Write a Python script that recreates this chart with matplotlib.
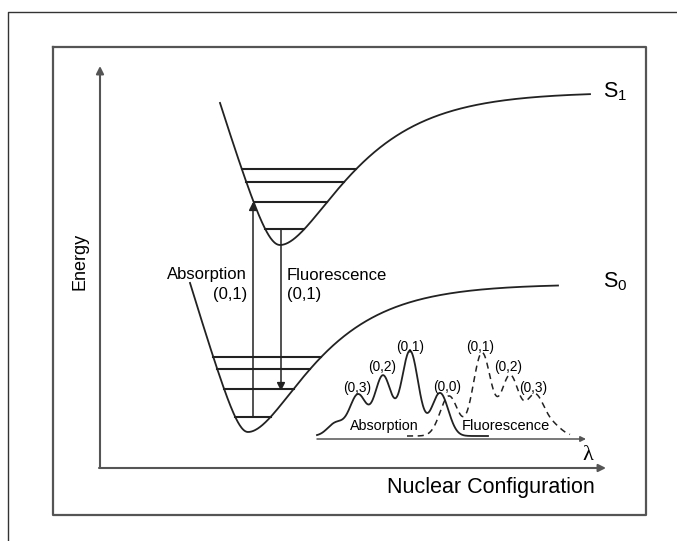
import numpy as np
import matplotlib
matplotlib.use("Agg")
import matplotlib.pyplot as plt

plt.rcParams['font.family'] = ['Liberation Sans', 'DejaVu Sans']

# --- potential curves (picture coordinates, y grows downwards) ---
# S1: minimum position / depth, Morse right side, rounded-linear left wall
S1_X0, S1_Y0 = 280, 245
S1_D, S1_A = 153, 0.016
S1_W, S1_C = 20, 65.7
S1_RANGE = (220, 590)
S1_LEVELS = [169, 182, 202, 229]

S0_X0, S0_Y0 = 248, 432
S0_D, S0_A = 148, 0.017
S0_W, S0_C = 16, 54
S0_RANGE = (190, 558)
S0_LEVELS = [357, 369, 389, 417]

# spectra: peak positions, heights, widths
SPEC_BASE = 436
ABS_POS = [336, 358, 383, 410, 440]
ABS_HEIGHT = [13, 41, 60, 85, 43]
ABS_SIGMA = 8.3
ABS_RANGE = (317, 488)
FLU_POS = [449, 482, 510, 535, 553]
FLU_HEIGHT = [40, 83, 60, 40, 10]
FLU_SIGMA = 8.8
FLU_RANGE = (407, 570)

ABS_LABELS = ["(0,3)", "(0,2)", "(0,1)", "(0,0)"]
ABS_LABEL_POS = [(357, 388), (382, 367), (410, 347), (447, 387)]
FLU_LABELS = ["(0,1)", "(0,2)", "(0,3)"]
FLU_LABEL_POS = [(480, 347), (508, 367), (533, 388)]

LINE = '#222222'
GREY = '#555555'


def potential(x, x0, y0, D, a, w, c):
    d = x - x0
    rise = np.where(d < 0, c * (np.sqrt(1 + (d / w) ** 2) - 1),
                    D * (1 - np.exp(-a * d)) ** 2)
    return y0 - rise


def level_ends(y, x0, y0, D, a, w, c):
    r = y0 - y
    left = x0 - w * np.sqrt((r / c + 1) ** 2 - 1)
    right = x0 - np.log(1 - np.sqrt(r / D)) / a
    return left, right


def spectrum(x, pos, height, sigma):
    s = np.zeros_like(x)
    for p, h in zip(pos, height):
        s += h * np.exp(-(x - p) ** 2 / (2 * sigma ** 2))
    return SPEC_BASE - s


fig = plt.figure(figsize=(6.77, 5.41), dpi=100)
ax = fig.add_axes([0, 0, 1, 1])
ax.set_xlim(0, 677)
ax.set_ylim(541, 0)
ax.axis('off')

# frames
ax.plot([8, 8, 677], [541, 12, 12], color='#333333', lw=1.0)
ax.plot([53, 646, 646, 53, 53], [47, 47, 515, 515, 47], color=GREY, lw=1.6)

# axes with arrows
arr = dict(arrowstyle='-|>', color=GREY, lw=1.5, mutation_scale=11,
           shrinkA=0, shrinkB=0)
ax.annotate('', xy=(100, 66), xytext=(100, 468), arrowprops=arr)
ax.annotate('', xy=(606, 468), xytext=(99, 468), arrowprops=arr)
ax.annotate('', xy=(586, 439), xytext=(317, 439),
            arrowprops=dict(arr, lw=1.1, mutation_scale=8))

ax.text(80, 261, 'Energy', rotation=90, ha='center', va='center', fontsize=13)
ax.text(491, 487, 'Nuclear Configuration', ha='center', va='center', fontsize=15.5)
ax.text(588, 456, 'λ', ha='center', va='center', fontsize=16,
        family=['Liberation Serif', 'DejaVu Serif'])

# potential curves
for p, rng, levels in [((S1_X0, S1_Y0, S1_D, S1_A, S1_W, S1_C), S1_RANGE, S1_LEVELS),
                       ((S0_X0, S0_Y0, S0_D, S0_A, S0_W, S0_C), S0_RANGE, S0_LEVELS)]:
    xs = np.linspace(rng[0], rng[1], 600)
    ax.plot(xs, potential(xs, *p), color=LINE, lw=1.3)
    for y in levels:
        l, r = level_ends(y, *p)
        ax.plot([l, r], [y, y], color=LINE, lw=1.5)

ax.text(603, 92, r'$\mathregular{S_1}$', ha='left', va='center', fontsize=15.5)
ax.text(603, 282, r'$\mathregular{S_0}$', ha='left', va='center', fontsize=15.5)

# transitions
ax.annotate('', xy=(253, S1_LEVELS[2]), xytext=(253, S0_LEVELS[3]),
            arrowprops=dict(arrowstyle='-|>', color=LINE, lw=1.1,
                            mutation_scale=12, shrinkA=0, shrinkB=0))
ax.annotate('', xy=(281, S0_LEVELS[2] + 2), xytext=(281, S1_LEVELS[3]),
            arrowprops=dict(arrowstyle='-|>', color=LINE, lw=1.1,
                            mutation_scale=12, shrinkA=0, shrinkB=0))
ax.text(247, 275, 'Absorption', ha='right', va='center', fontsize=12)
ax.text(247, 295, '(0,1)', ha='right', va='center', fontsize=12)
ax.text(287, 275, 'Fluorescence', ha='left', va='center', fontsize=12)
ax.text(287, 295, '(0,1)', ha='left', va='center', fontsize=12)

# spectra
xa = np.linspace(ABS_RANGE[0], ABS_RANGE[1], 400)
ax.plot(xa, spectrum(xa, ABS_POS, ABS_HEIGHT, ABS_SIGMA), color=LINE, lw=1.3)
xf = np.linspace(FLU_RANGE[0], FLU_RANGE[1], 400)
ax.plot(xf, spectrum(xf, FLU_POS, FLU_HEIGHT, FLU_SIGMA), color=LINE, lw=1.1,
        linestyle=(0, (4, 3)))

for t, (x, y) in zip(ABS_LABELS + FLU_LABELS, ABS_LABEL_POS + FLU_LABEL_POS):
    ax.text(x, y, t, ha='center', va='center', fontsize=9.8)
ax.text(384, 426, 'Absorption', ha='center', va='center', fontsize=10.3)
ax.text(506, 426, 'Fluorescence', ha='center', va='center', fontsize=10.5)

fig.savefig('out.png', dpi=100)
